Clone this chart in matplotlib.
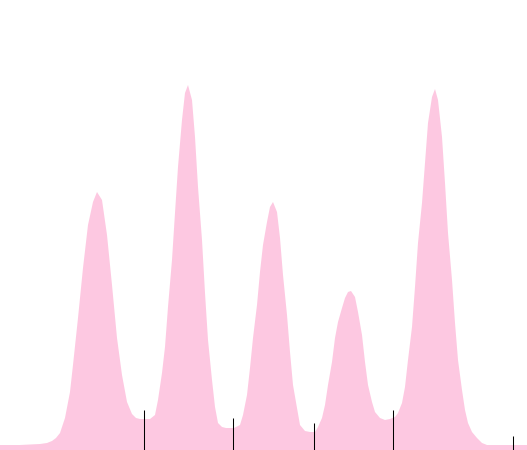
import numpy as np
import matplotlib
matplotlib.use("Agg")
import matplotlib.pyplot as plt

# curve: x position and height above the bottom edge
curve_x = [0, 20, 40, 47, 52, 56, 60, 65, 70, 73, 78, 83, 88, 93, 97, 102, 107,
           112, 117, 122, 127, 132, 136, 140, 150, 155, 158, 162, 165, 168, 172,
           175, 178, 182, 185, 188, 192, 195, 198, 202, 205, 208, 212, 215, 218,
           222, 226, 234, 240, 243, 247, 250, 253, 257, 260, 263, 267, 270, 273,
           277, 280, 283, 287, 290, 293, 297, 300, 305, 310, 315, 318, 322, 325,
           328, 332, 335, 338, 342, 345, 348, 351, 355, 358, 362, 365, 368, 372,
           375, 380, 385, 390, 395, 398, 402, 405, 408, 412, 415, 418, 422, 425,
           428, 432, 435, 438, 442, 445, 448, 452, 455, 458, 462, 465, 468, 472,
           477, 482, 487, 527]
curve_px = [445, 445, 444, 443, 441, 438, 433, 418, 392, 365, 318, 268, 225, 202,
            192, 200, 235, 285, 338, 375, 402, 414, 418, 419, 419, 415, 400, 373,
            347, 307, 260, 213, 167, 120, 93, 85, 100, 137, 187, 240, 293, 340,
            380, 407, 423, 427, 428, 428, 425, 415, 395, 368, 338, 305, 272, 245,
            222, 207, 202, 212, 238, 275, 315, 352, 385, 408, 425, 431, 432, 432,
            427, 418, 405, 385, 362, 338, 322, 308, 298, 292, 291, 297, 312, 335,
            362, 385, 402, 412, 418, 420, 419, 417, 413, 403, 387, 360, 327, 287,
            243, 203, 163, 123, 97, 89, 100, 137, 183, 233, 280, 323, 360, 390,
            410, 423, 432, 438, 443, 445, 445]
curve_y = [450 - p for p in curve_px]

# vertical markers
mark_x = [144.3, 233.3, 314.3, 393.3, 512.7]
mark_h = [40, 32, 27, 40, 14]

fig = plt.figure(figsize=(5.27, 4.5), dpi=100)
ax = fig.add_axes([0, 0, 1, 1])
ax.fill_between(curve_x, 0, curve_y, color="#fdc8e1", linewidth=0)
ax.vlines(mark_x, 0, mark_h, color="black", linewidth=0.75)
ax.set_xlim(0, 527)
ax.set_ylim(0, 450)
ax.axis("off")

fig.savefig("out.png", dpi=100)
